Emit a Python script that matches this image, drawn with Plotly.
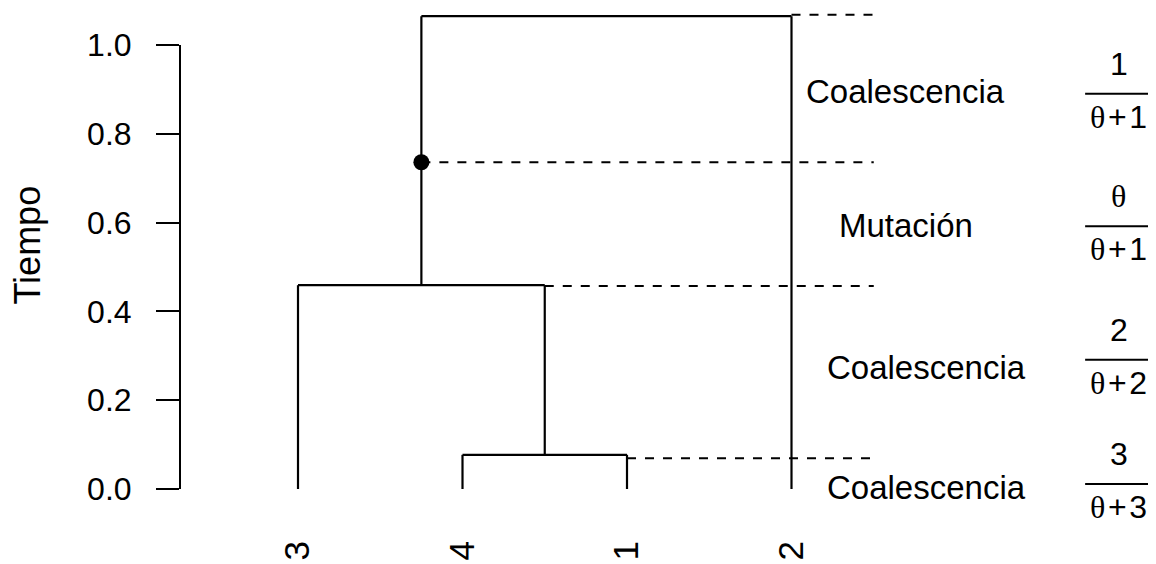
import plotly.graph_objects as go

# ---------------- data ----------------
leaf_labels = ["3", "4", "1", "2"]          # leaf order left to right
leaf_pos = [1, 2, 3, 4]
merge_41 = 0.077        # coalescence of 4 and 1
merge_341 = 0.459       # coalescence of 3 with (4,1)
merge_root = 1.065      # coalescence with 2
mutation_h = 0.736      # mutation on branch above (3,(4,1))

event_heights = [1.068, 0.736, 0.457, 0.069]      # dashed event lines
event_starts = [4.0, 1.75, 2.5, 3.0]               # x where each dashed line starts
event_end = 4.5

event_labels = ["Coalescencia", "Mutación", "Coalescencia", "Coalescencia"]
event_label_y = [0.896, 0.593, 0.273, 0.003]
event_label_x = [4.696, 4.696, 4.818, 4.818]

frac_num = ["1", "θ", "2", "3"]
frac_den = ["θ\u200a+\u200a1", "θ\u200a+\u200a1", "θ\u200a+\u200a2", "θ\u200a+\u200a3"]
frac_y = [0.890, 0.592, 0.291, 0.011]
frac_x = 5.99

y_ticks = [0.0, 0.2, 0.4, 0.6, 0.8, 1.0]
y_ticktext = ["0.0", "0.2", "0.4", "0.6", "0.8", "1.0"]

# ---------------- build tree segments ----------------
x3, x4, x1, x2 = leaf_pos
node41_x = (x4 + x1) / 2
node341_x = (x3 + node41_x) / 2

segs = [
    ([x4, x4], [0, merge_41]),
    ([x1, x1], [0, merge_41]),
    ([x4, x1], [merge_41, merge_41]),
    ([node41_x, node41_x], [merge_41, merge_341]),
    ([x3, x3], [0, merge_341]),
    ([x3, node41_x], [merge_341, merge_341]),
    ([node341_x, node341_x], [merge_341, merge_root]),
    ([x2, x2], [0, merge_root]),
    ([node341_x, x2], [merge_root, merge_root]),
]
tx, ty = [], []
for xs, ys in segs:
    tx += xs + [None]
    ty += ys + [None]

FONT = "Liberation Sans, Arial, Helvetica, sans-serif"
FS = 32

fig = go.Figure()
fig.add_trace(go.Scatter(x=tx, y=ty, mode="lines",
                         line=dict(color="black", width=2.2),
                         hoverinfo="skip", showlegend=False, cliponaxis=False))

dx, dy = [], []
for h, s in zip(event_heights, event_starts):
    dx += [s, event_end, None]
    dy += [h, h, None]
fig.add_trace(go.Scatter(x=dx, y=dy, mode="lines",
                         line=dict(color="black", width=2, dash="9px,9px"),
                         hoverinfo="skip", showlegend=False, cliponaxis=False))

fig.add_trace(go.Scatter(x=[node341_x], y=[mutation_h], mode="markers",
                         marker=dict(color="black", size=16),
                         hoverinfo="skip", showlegend=False, cliponaxis=False))

def th(s):
    return s.replace("θ", '<span style="font-family:Liberation Serif, serif">θ</span>')

annotations = []
shapes = []
for lab, lx, ly, num, den, fy in zip(event_labels, event_label_x, event_label_y,
                                     frac_num, frac_den, frac_y):
    annotations.append(dict(x=lx, y=ly, xref="x", yref="y", text=lab, showarrow=False,
                            xanchor="center", yanchor="middle",
                            font=dict(family=FONT, size=33, color="black")))
    annotations.append(dict(x=frac_x, y=fy, xref="x", yref="y", text=th(num), showarrow=False,
                            xanchor="center", yanchor="middle", yshift=30,
                            font=dict(family=FONT, size=FS, color="black")))
    annotations.append(dict(x=frac_x, y=fy, xref="x", yref="y", text=th(den), showarrow=False,
                            xanchor="center", yanchor="middle", yshift=-23,
                            font=dict(family=FONT, size=FS, color="black")))
    shapes.append(dict(type="line", xref="x", yref="y", x0=frac_x - 0.205, x1=frac_x + 0.205,
                       y0=fy, y1=fy, line=dict(color="black", width=2)))

annotations.append(dict(x=-0.156, y=0.55, xref="paper", yref="y", text="Tiempo", showarrow=False,
                        textangle=-90, xanchor="center", yanchor="middle",
                        font=dict(family=FONT, size=36, color="black")))

shapes.append(dict(type="line", xref="paper", yref="y", x0=0, x1=0, y0=y_ticks[0], y1=y_ticks[-1],
                   line=dict(color="black", width=2)))

fig.update_layout(
    width=1148, height=556,
    margin=dict(l=172, r=0, t=0, b=31, autoexpand=False),
    paper_bgcolor="white", plot_bgcolor="white",
    showlegend=False,
    annotations=annotations, shapes=shapes,
    xaxis=dict(range=[1 - 118 / 164.5, 1 + 858 / 164.5], tickmode="array",
               tickvals=leaf_pos, ticktext=leaf_labels, tickangle=-90,
               showgrid=False, zeroline=False, showline=False, ticks="",
               tickfont=dict(family=FONT, size=35, color="black"), automargin=False),
    yaxis=dict(range=[-(533 - 489) / 444, (489 - 8) / 444], tickmode="array",
               tickvals=y_ticks, ticktext=y_ticktext,
               showgrid=False, zeroline=False, showline=False,
               ticks="outside", ticklen=23, tickwidth=2, tickcolor="black",
               ticklabelstandoff=18,
               tickfont=dict(family=FONT, size=FS, color="black"), automargin=False),
)

fig.write_html("out.html")
